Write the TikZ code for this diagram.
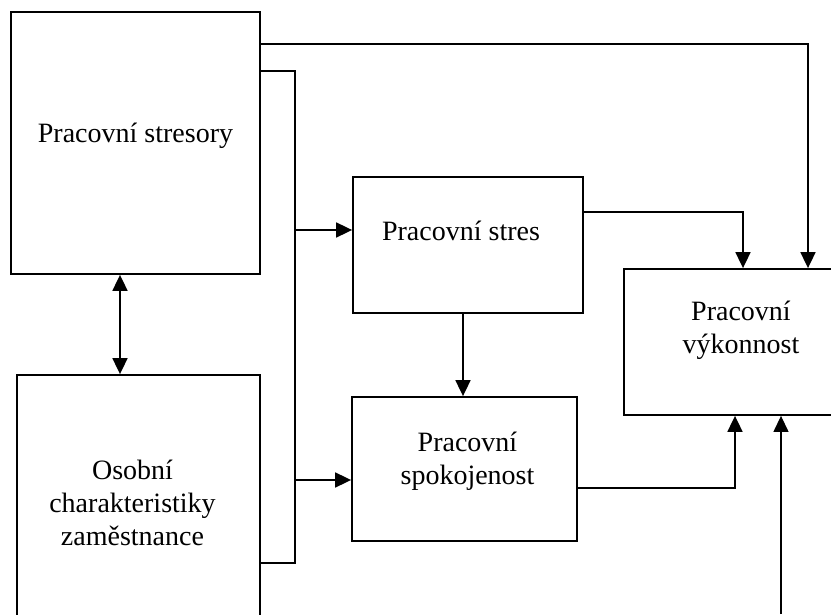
\documentclass[tikz,border=0pt]{standalone}
\usepackage{fontspec}
\setmainfont{Liberation Serif}
\usepackage{tikz}
\usetikzlibrary{arrows.meta,positioning,calc}

\begin{document}
\begin{tikzpicture}[x=1pt, y=1pt, line width=1.8pt,
    >={Triangle[length=16pt,width=15pt]},
    blok/.style={rectangle, draw, line width=1.8pt},
    popis/.style={font=\fontsize{28}{33}\selectfont, align=center}]
    \clip (0,0) rectangle (831,614);

    \node (stresory) [blok, minimum width=249, minimum height=262] at (135.5,471) {};
    \node (osobni) [blok, minimum width=243, minimum height=260] at (138.5,109) {};
    \node (stres) [blok, minimum width=230, minimum height=136] at (468,369) {};
    \node (spok) [blok, minimum width=225, minimum height=144] at (464.5,145) {};
    \node (vykon) [blok, minimum width=234, minimum height=146] at (741,272) {};

    \node (stresoryT) [popis] at ([yshift=7]stresory.center) {Pracovní stresory};
    \node (osobniT) [popis] at ([xshift=-6,yshift=2]osobni.center) {Osobní\\charakteristiky\\zaměstnance};
    \node (stresT) [popis] at ([xshift=-7,yshift=14]stres.center) {Pracovní stres};
    \node (spokT) [popis] at ([xshift=3,yshift=8]spok.center) {Pracovní\\spokojenost};
    \node (vykonT) [popis] at ([yshift=12]vykon.center) {Pracovní\\výkonnost};

    \coordinate (horni) at (808,570);
    \coordinate (zavorka) at (295,543);
    \coordinate (zavorkaDole) at (295,51);
    \coordinate (kStres) at (295,384);
    \coordinate (kSpok) at (295,134);
    \coordinate (ohyb1) at (743,402);
    \coordinate (ohyb2) at (735,126);
    \coordinate (zdola) at (781,0);

    \draw [->] (stresory.east |- horni) -- (horni) -- (horni |- vykon.north);
    \draw (stresory.east |- zavorka) -- (zavorka) -- (zavorkaDole) -- (osobni.east |- zavorkaDole);
    \draw [->] (kStres) -- (stres.west |- kStres);
    \draw [->] (kSpok) -- (spok.west |- kSpok);
    \draw [->] (stres.east |- ohyb1) -- (ohyb1) -- (ohyb1 |- vykon.north);
    \draw [->] (spok.east |- ohyb2) -- (ohyb2) -- (ohyb2 |- vykon.south);
    \draw [->, line width=1.2pt] (zdola) -- (zdola |- vykon.south);
    \draw [->] ([xshift=-5]stres.south) -- ([xshift=-5]stres.south |- spok.north);
    \draw [<->] ([xshift=-15.5]stresory.south) -- ([xshift=-15.5]stresory.south |- osobni.north);
\end{tikzpicture}
\end{document}
